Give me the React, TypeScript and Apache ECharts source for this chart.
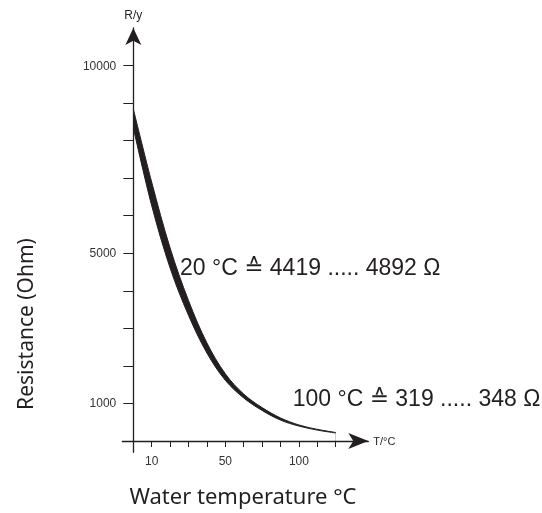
import React, { useEffect, useRef } from "react";
import * as echarts from "echarts";

// x positions (tick index along the temperature axis)
const tickIndex = [0, 1, 2, 3, 4, 5, 6, 7, 8, 9, 10, 11];
const xLabelPos = [1, 5, 9];
const xLabelText = ["10", "50", "100"];
const yTickValues = [1000, 2000, 3000, 4000, 5000, 6000, 7000, 8000, 9000, 10000];
const yLabelValues = [1000, 5000, 10000];
// resistance band (Ohm): lower and upper tolerance curves
const lowerR = [8340, 6265, 4605, 3345, 2342, 1616, 1146, 814, 557, 398, 291, 215];
const upperR = [8840, 6890, 5140, 3740, 2612, 1792, 1250, 890, 615, 428, 311, 227];
const note20 = "20 °C ≙ 4419 ..... 4892 Ω";
const note100 = "100 °C ≙ 319 ..... 348 Ω";
const xTitle = "Water temperature °C";
const yTitle = "Resistance (Ohm)";

const INK = "#231f20";
const SANS = '"Liberation Sans", Arial, "DejaVu Sans", sans-serif';
const HUMANIST = '"Noto Sans", "Open Sans", sans-serif';

export default function App() {
  const ref = useRef<HTMLDivElement>(null);
  useEffect(() => {
    if (!ref.current) return;
    const chart = echarts.init(ref.current, null, { renderer: "svg" });
    const option: any = {
      animation: false,
      grid: {
        left: 122.3,
        right: 173.7,
        top: 28,
        bottom: 60.7,
        containLabel: false,
        outerBoundsMode: "none",
      },
      xAxis: {
        type: "value",
        min: -0.6,
        max: 12.77,
        z: 10,
        name: "T/°C",
        nameLocation: "end",
        nameGap: 5,
        nameTextStyle: { fontSize: 11, color: INK, fontFamily: SANS, verticalAlign: "middle", align: "left" },
        axisLine: {
          onZero: true,
          symbol: ["none", "arrow"],
          symbolSize: [12, 20],
          lineStyle: { color: INK, width: 1.3 },
        },
        axisTick: { show: true, customValues: tickIndex.slice(1), length: 6, lineStyle: { color: INK, width: 1 } },
        axisLabel: {
          customValues: xLabelPos,
          formatter: (v: number) => {
            const k = xLabelPos.indexOf(v);
            return k >= 0 ? xLabelText[k] : "";
          },
          margin: 3,
          fontSize: 12,
          color: "#333",
          fontFamily: SANS,
        },
        splitLine: { show: false },
      },
      yAxis: {
        type: "value",
        min: -300,
        max: 11000,
        z: 10,
        name: "R/y",
        nameLocation: "end",
        nameGap: 7,
        nameTextStyle: { fontSize: 12, color: INK, fontFamily: SANS, align: "center" },
        axisLine: {
          onZero: true,
          symbol: ["none", "arrow"],
          symbolSize: [12, 17],
          lineStyle: { color: INK, width: 1.3 },
        },
        axisTick: { show: true, customValues: yTickValues, length: 10, lineStyle: { color: INK, width: 1 } },
        axisLabel: {
          customValues: yLabelValues,
          formatter: (v: number) => String(v),
          margin: 6,
          fontSize: 12,
          color: "#333",
          fontFamily: SANS,
        },
        splitLine: { show: false },
      },
      series: [
        {
          name: "upper",
          type: "line",
          data: tickIndex.map((x, i) => [x, upperR[i]]),
          smooth: 0.35,
          symbol: "none",
          z: 2,
          lineStyle: { color: INK, width: 1 },
          areaStyle: { color: INK, opacity: 1 },
        },
        {
          name: "lower",
          type: "line",
          data: tickIndex.map((x, i) => [x, lowerR[i]]),
          smooth: 0.35,
          symbol: "none",
          z: 3,
          lineStyle: { color: INK, width: 1 },
          areaStyle: { color: "#ffffff", opacity: 1 },
        },
      ],
      graphic: [
        {
          type: "text",
          x: 180,
          y: 267,
          z: 20,
          style: { text: note20, fontSize: 23, fontFamily: SANS, fill: INK, verticalAlign: "middle", align: "left" },
        },
        {
          type: "text",
          x: 292.7,
          y: 397.5,
          z: 20,
          style: { text: note100, fontSize: 23, fontFamily: SANS, fill: INK, verticalAlign: "middle", align: "left" },
        },
        {
          type: "text",
          x: 243,
          y: 495,
          style: { text: xTitle, fontSize: 22, fontFamily: HUMANIST, fill: INK, verticalAlign: "middle", align: "center" },
        },
        {
          type: "text",
          x: 25,
          y: 324,
          rotation: Math.PI / 2,
          style: { text: yTitle, fontSize: 21, fontFamily: HUMANIST, fill: INK, verticalAlign: "middle", align: "center" },
        },
      ],
    };
    chart.setOption(option);
    return () => chart.dispose();
  }, []);
  return <div ref={ref} style={{ position: "fixed", left: 0, top: 0, width: 542, height: 513 }} />;
}
